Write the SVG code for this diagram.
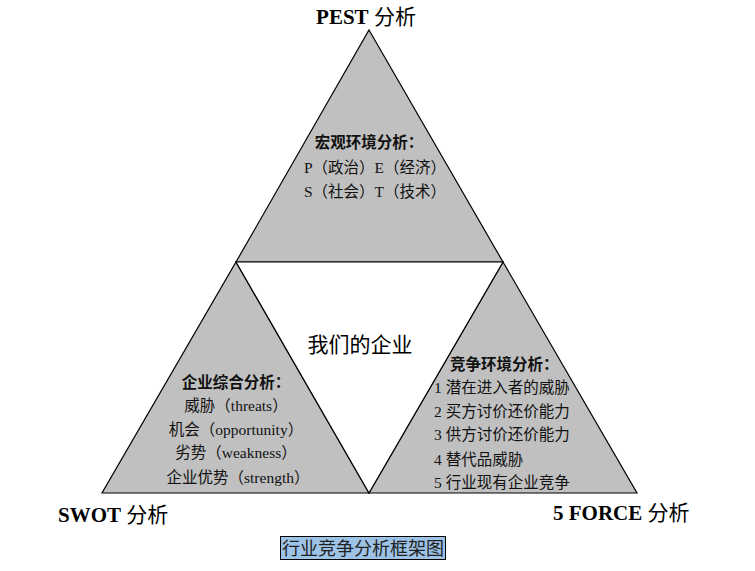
<svg xmlns="http://www.w3.org/2000/svg" width="755" height="571" viewBox="0 0 755 571">
<style>
  .tri { fill: #c0c0c0; stroke: #000; stroke-width: 1.2; stroke-linejoin: miter; }
  .hole { fill: #fff; stroke: #000; stroke-width: 1.2; }
  .t { font-family: "Liberation Serif", "Noto Sans CJK SC", serif; font-size: 15.5px; fill: #111; }
  .h { font-weight: bold; }
  .c { text-anchor: middle; }
  .big { font-family: "Liberation Serif", "Noto Sans CJK SC", serif; font-size: 21px; fill: #000; }
  .lat { font-weight: bold; }
  .cap { font-family: "Noto Sans CJK SC", sans-serif; font-size: 18px; fill: #222; text-anchor: middle; }
</style>
<rect width="755" height="571" fill="#fff"/>
<g id="connectors"></g>
<g id="pest">
  <polygon class="tri" points="369,30 503,262 236,262"/>
  <text class="big c" x="366" y="24"><tspan class="lat">PEST</tspan> 分析</text>
  <text class="t h c" x="369" y="148">宏观环境分析：</text>
  <text class="t c" x="375" y="173">P（政治）E（经济）</text>
  <text class="t c" x="375" y="197">S（社会）T（技术）</text>
</g>
<g id="swot">
  <polygon class="tri" points="236,262 369,493 102,493"/>
  <text class="big" x="58" y="522"><tspan class="lat">SWOT</tspan> 分析</text>
  <text class="t h c" x="236" y="388">企业综合分析：</text>
  <text class="t c" x="236" y="411">威胁（threats）</text>
  <text class="t c" x="236" y="435">机会（opportunity）</text>
  <text class="t c" x="236" y="458">劣势（weakness）</text>
  <text class="t c" x="238" y="483">企业优势（strength）</text>
</g>
<g id="fiveforce">
  <polygon class="tri" points="503,262 637,493 369,493"/>
  <text class="big" x="553" y="520"><tspan class="lat">5 FORCE</tspan> 分析</text>
  <text class="t h" x="450" y="370">竞争环境分析：</text>
  <text class="t" x="434" y="393">1 潜在进入者的威胁</text>
  <text class="t" x="434" y="417">2 买方讨价还价能力</text>
  <text class="t" x="434" y="440">3 供方讨价还价能力</text>
  <text class="t" x="434" y="465">4 替代品威胁</text>
  <text class="t" x="434" y="488">5 行业现有企业竞争</text>
</g>
<g id="center">
  <polygon class="hole" points="236,262 503,262 369,493"/>
  <text class="big c" x="360" y="352">我们的企业</text>
</g>
<g id="caption">
  <rect x="280.5" y="536.5" width="165" height="23" fill="#9dc3e6" stroke="#000" stroke-width="1"/>
  <text class="cap" x="363" y="555">行业竞争分析框架图</text>
</g>
</svg>
